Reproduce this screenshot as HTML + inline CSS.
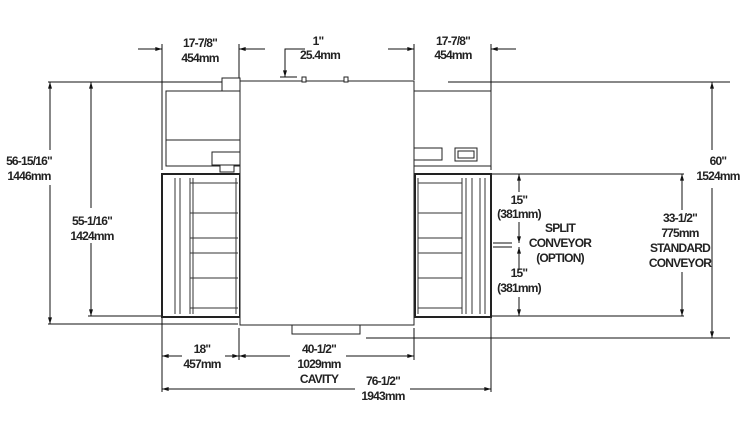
<!DOCTYPE html>
<html><head><style>
html,body{margin:0;padding:0;background:#fff;width:750px;height:430px;overflow:hidden}
text{font-family:"Liberation Sans",Arial,sans-serif;font-size:12px;font-weight:bold;fill:#222;text-anchor:middle;letter-spacing:-0.8px}
</style></head><body>
<svg width="750" height="430" viewBox="0 0 750 430" xmlns="http://www.w3.org/2000/svg">
<defs>
<marker id="a" viewBox="0 0 10 6" refX="10" refY="3" markerWidth="9" markerHeight="4" orient="auto-start-reverse"><path d="M0,0L10,3L0,6z" fill="#111"/></marker>
</defs>
<g stroke="#111" stroke-width="1" fill="none">
<line x1="48" y1="82" x2="240" y2="82"/>
<line x1="448" y1="82" x2="730" y2="82"/>
<line x1="48" y1="324" x2="238" y2="324"/>
<line x1="88" y1="316" x2="162" y2="316"/>
<line x1="366" y1="338" x2="730" y2="338"/>
<line x1="492" y1="174" x2="684" y2="174"/>
<line x1="492" y1="316" x2="684" y2="316"/>
<line x1="162" y1="44" x2="162" y2="170"/>
<line x1="239" y1="44" x2="239" y2="80"/>
<line x1="414" y1="44" x2="414" y2="80"/>
<line x1="491" y1="44" x2="491" y2="170"/>
<line x1="162" y1="318" x2="162" y2="392"/>
<line x1="239" y1="328" x2="239" y2="360"/>
<line x1="414" y1="328" x2="414" y2="360"/>
<line x1="491" y1="318" x2="491" y2="392"/>
<line x1="138" y1="49" x2="162" y2="49" marker-end="url(#a)"/>
<line x1="265" y1="49" x2="239" y2="49" marker-end="url(#a)"/>
<line x1="388" y1="49" x2="414" y2="49" marker-end="url(#a)"/>
<line x1="516" y1="49" x2="491" y2="49" marker-end="url(#a)"/>
<polyline points="305,49 285,49 285,77" marker-end="url(#a)"/>
<line x1="280" y1="77" x2="297" y2="77"/>
<line x1="285" y1="105" x2="285" y2="82" marker-end="url(#a)"/>
<line x1="50" y1="150" x2="50" y2="82" marker-end="url(#a)"/>
<line x1="50" y1="185" x2="50" y2="324" marker-end="url(#a)"/>
<line x1="91" y1="208" x2="91" y2="82" marker-end="url(#a)"/>
<line x1="91" y1="243" x2="91" y2="316" marker-end="url(#a)"/>
<line x1="712" y1="150" x2="712" y2="82" marker-end="url(#a)"/>
<line x1="712" y1="188" x2="712" y2="338" marker-end="url(#a)"/>
<line x1="682" y1="210" x2="682" y2="174" marker-end="url(#a)"/>
<line x1="682" y1="272" x2="682" y2="316" marker-end="url(#a)"/>
<line x1="519" y1="192" x2="519" y2="174" marker-end="url(#a)"/>
<line x1="519" y1="222" x2="519" y2="243" marker-end="url(#a)"/>
<line x1="519" y1="270" x2="519" y2="247" marker-end="url(#a)"/>
<line x1="519" y1="297" x2="519" y2="316" marker-end="url(#a)"/>
<line x1="493" y1="243" x2="512" y2="243"/>
<line x1="493" y1="247" x2="512" y2="247"/>
<line x1="182" y1="356" x2="162" y2="356" marker-end="url(#a)"/>
<line x1="225" y1="356" x2="239" y2="356" marker-end="url(#a)"/>
<line x1="290" y1="356" x2="239" y2="356" marker-end="url(#a)"/>
<line x1="346" y1="356" x2="414" y2="356" marker-end="url(#a)"/>
<line x1="355" y1="389" x2="162" y2="389" marker-end="url(#a)"/>
<line x1="410" y1="389" x2="491" y2="389" marker-end="url(#a)"/>
</g>
<g stroke="#222" stroke-width="1" fill="#fff">
<rect x="166" y="91" width="74" height="75"/>
<line x1="166" y1="140" x2="240" y2="140"/>
<rect x="212" y="152" width="28" height="13"/>
<rect x="220" y="165" width="14" height="7"/>
<rect x="414" y="91" width="77" height="75"/>
<rect x="414" y="148" width="28" height="12"/>
<rect x="455" y="148" width="22" height="13"/>
<rect x="458" y="151" width="16" height="7"/>
<rect x="222" y="78" width="18" height="13"/>
<rect x="162" y="174" width="78" height="143" stroke-width="2"/>
<rect x="415" y="174" width="76" height="143" stroke-width="2"/>
<rect x="292" y="322" width="68" height="12"/>
<rect x="240" y="81" width="174" height="244"/>
<rect x="302" y="77" width="4" height="5"/>
<rect x="344" y="77" width="4" height="5"/>
</g>
<g stroke="#333" stroke-width="1" fill="none">
<line x1="175" y1="178" x2="175" y2="314"/><line x1="180" y1="178" x2="180" y2="314"/>
<line x1="190" y1="178" x2="190" y2="314"/><line x1="193" y1="178" x2="193" y2="314"/>
<line x1="236" y1="178" x2="236" y2="314"/>
<line x1="190" y1="183" x2="238" y2="183"/><line x1="190" y1="213" x2="238" y2="213"/>
<line x1="190" y1="238" x2="238" y2="238"/><line x1="190" y1="253" x2="238" y2="253"/>
<line x1="190" y1="278" x2="238" y2="278"/><line x1="190" y1="308" x2="238" y2="308"/>
<line x1="418" y1="178" x2="418" y2="314"/>
<line x1="462" y1="178" x2="462" y2="314"/><line x1="466" y1="178" x2="466" y2="314"/>
<line x1="472" y1="178" x2="472" y2="314"/><line x1="480" y1="178" x2="480" y2="314"/>
<line x1="485" y1="178" x2="485" y2="314"/>
<line x1="418" y1="183" x2="462" y2="183"/><line x1="418" y1="213" x2="462" y2="213"/>
<line x1="418" y1="238" x2="462" y2="238"/><line x1="418" y1="253" x2="462" y2="253"/>
<line x1="418" y1="278" x2="462" y2="278"/><line x1="418" y1="308" x2="462" y2="308"/>
</g>
<text x="200" y="47">17-7/8"</text><text x="200" y="62">454mm</text>
<text x="318" y="45">1"</text><text x="320" y="59">25.4mm</text>
<text x="453" y="45">17-7/8"</text><text x="453" y="59">454mm</text>
<text x="29" y="165">56-15/16"</text><text x="29" y="180">1446mm</text>
<text x="92" y="225">55-1/16"</text><text x="92" y="240">1424mm</text>
<text x="718" y="165">60"</text><text x="718" y="180">1524mm</text>
<text x="680" y="222">33-1/2"</text><text x="680" y="237">775mm</text>
<text x="680" y="252">STANDARD</text><text x="680" y="267">CONVEYOR</text>
<text x="519" y="204">15"</text><text x="519" y="218">(381mm)</text>
<text x="560" y="232">SPLIT</text><text x="560" y="247">CONVEYOR</text><text x="560" y="262">(OPTION)</text>
<text x="519" y="277">15"</text><text x="519" y="292">(381mm)</text>
<text x="202" y="353">18"</text><text x="202" y="368">457mm</text>
<text x="319" y="353">40-1/2"</text><text x="319" y="368">1029mm</text><text x="319" y="383">CAVITY</text>
<text x="383" y="385">76-1/2"</text><text x="383" y="400">1943mm</text>
</svg>
</body></html>
